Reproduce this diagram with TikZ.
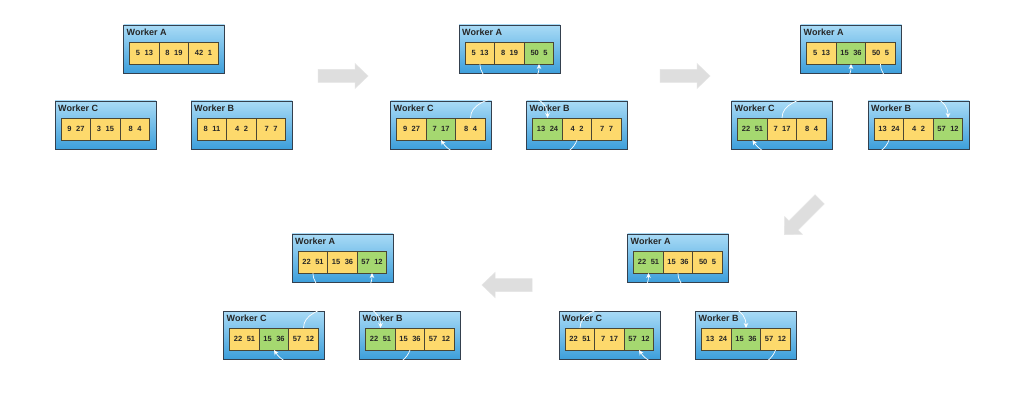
\documentclass[tikz,border=0pt]{standalone}
\usepackage{fontspec}
\setmainfont{Liberation Sans}
\usetikzlibrary{arrows.meta}

\definecolor{boxtop}{HTML}{A9DBF6}
\definecolor{boxbot}{HTML}{3D9FDB}
\definecolor{boxline}{HTML}{34404E}
\definecolor{cellY}{HTML}{FDD96C}
\definecolor{cellG}{HTML}{A5D870}
\definecolor{cellline}{HTML}{4A4634}
\definecolor{stepgray}{HTML}{DEDEDE}

\tikzset{
  wbox/.style={draw=boxline, line width=0.8pt, top color=boxtop, bottom color=boxbot,
    minimum width=101pt, minimum height=48pt, inner sep=0pt, outer sep=0pt},
  wlabel/.style={anchor=north west, inner sep=0pt,
    font=\fontsize{9}{10}\selectfont\bfseries, text=black!85},
  cellbox/.style={draw=cellline, line width=0.6pt, minimum width=29.5pt,
    minimum height=22pt, inner sep=0pt, outer sep=0pt,
    font=\fontsize{7.5}{8}\selectfont\bfseries, text=black!85},
  flow/.style={draw=white, line width=0.7pt, -{Stealth[length=5pt,width=4.5pt]}},
  stepbig/.pic={
    \path[fill=stepgray, draw=white!90!black, line width=0.5pt]
      (-25,-6.5) -- (12,-6.5) -- (12,-12.5) -- (25,0) -- (12,12.5)
      -- (12,6.5) -- (-25,6.5) -- cycle;
  }
}

% #1 name, #2 x, #3 y, #4 title, #5 cells as a/b/colour
\newcommand\workerbox[5]{%
  \node[wbox] (#1) at (#2,#3) {};
  \node[wlabel] (#1-t) at ([xshift=3pt,yshift=-3.5pt]#1.north west) {#4};
  \foreach \a/\b/\f [count=\i] in {#5} {
    \pgfmathsetmacro\dx{(\i-2)*29.5}
    \node[cellbox, fill=cell\f] (#1-\i) at ([xshift=\dx pt,yshift=-4pt]#1.center)
      {\a\hspace{4.5pt}\b};
  }%
}

\begin{document}
\begin{tikzpicture}[x=1pt,y=-1pt]
\useasboundingbox (0,0) rectangle (1024,403);
\fill[white] (0,0) rectangle (1024,403);

% step 1
\workerbox{A1}{174}{49}{Worker A}{5/13/Y, 8/19/Y, 42/1/Y}
\workerbox{C1}{105.5}{125}{Worker C}{9/27/Y, 3/15/Y, 8/4/Y}
\workerbox{B1}{241.5}{125}{Worker B}{8/11/Y, 4/2/Y, 7/7/Y}

% step 2
\workerbox{A2}{509.5}{49}{Worker A}{5/13/Y, 8/19/Y, 50/5/G}
\workerbox{C2}{441}{125}{Worker C}{9/27/Y, 7/17/G, 8/4/Y}
\workerbox{B2}{577}{125}{Worker B}{13/24/G, 4/2/Y, 7/7/Y}

% step 3
\workerbox{A3}{851}{49}{Worker A}{5/13/Y, 15/36/G, 50/5/Y}
\workerbox{C3}{782}{125}{Worker C}{22/51/G, 7/17/Y, 8/4/Y}
\workerbox{B3}{918.5}{125}{Worker B}{13/24/Y, 4/2/Y, 57/12/G}

% step 4
\workerbox{A4}{678}{258}{Worker A}{22/51/G, 15/36/Y, 50/5/Y}
\workerbox{C4}{609.5}{335}{Worker C}{22/51/Y, 7/17/Y, 57/12/G}
\workerbox{B4}{746}{335}{Worker B}{13/24/Y, 15/36/G, 57/12/Y}

% step 5
\workerbox{A5}{342.5}{258}{Worker A}{22/51/Y, 15/36/Y, 57/12/G}
\workerbox{C5}{274}{335}{Worker C}{22/51/Y, 15/36/G, 57/12/Y}
\workerbox{B5}{410}{335}{Worker B}{22/51/G, 15/36/Y, 57/12/Y}

% transfers between workers
\draw[flow] (A2-1.south) .. controls +(0,31) and +(0,-33) .. (B2-1.north);
\draw[flow] (C2-3.north) .. controls +(0,-28) and +(0,36) .. (A2-3.south);
\draw[flow] (B2-2.south) .. controls +(-12,35) and +(19,30) .. (C2-2.south);

\draw[flow] (A3-3.south) .. controls +(0,31) and +(0,-33) .. (B3-3.north);
\draw[flow] (C3-2.north) .. controls +(0,-28) and +(0,36) .. (A3-2.south);
\draw[flow] (B3-1.south) .. controls +(-12,35) and +(19,30) .. (C3-1.south);

\draw[flow] (A4-2.south) .. controls +(0,31) and +(0,-33) .. (B4-2.north);
\draw[flow] (C4-1.north) .. controls +(0,-28) and +(0,36) .. (A4-1.south);
\draw[flow] (B4-3.south) .. controls +(-12,35) and +(19,30) .. (C4-3.south);

\draw[flow] (A5-1.south) .. controls +(0,31) and +(0,-33) .. (B5-1.north);
\draw[flow] (C5-3.north) .. controls +(0,-28) and +(0,36) .. (A5-3.south);
\draw[flow] (B5-2.south) .. controls +(-12,35) and +(19,30) .. (C5-2.south);

% progression between steps
\pic at (343,76) {stepbig};
\pic at (685,76) {stepbig};
\pic[rotate=225] at (802,217) {stepbig};
\pic[rotate=180] at (507,285) {stepbig};
\end{tikzpicture}
\end{document}
